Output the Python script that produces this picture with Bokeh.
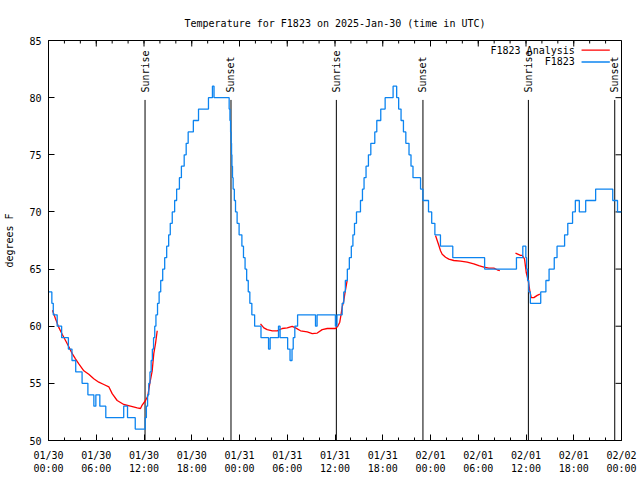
import math
import numpy as np
from bokeh.plotting import figure
from bokeh.models import Range1d, FixedTicker, Label
from bokeh.embed import file_html
from bokeh.resources import INLINE
from bokeh.core.properties import value

FONT = "DejaVu Sans Mono"

# ---------------- data ----------------
title_text = "Temperature for F1823 on 2025-Jan-30 (time in UTC)"
y_label_text = "degrees F"
series_names = ["F1823 Analysis", "F1823"]

x_tick_hours = [0, 6, 12, 18, 24, 30, 36, 42, 48, 54, 60, 66, 72]
x_tick_dates = ["01/30", "01/30", "01/30", "01/30", "01/31", "01/31", "01/31",
                "01/31", "02/01", "02/01", "02/01", "02/01", "02/02"]
x_tick_times = ["00:00", "06:00", "12:00", "18:00", "00:00", "06:00", "12:00",
                "18:00", "00:00", "06:00", "12:00", "18:00", "00:00"]
x_minor_hours = list(range(0, 73, 2))
y_ticks = [50, 55, 60, 65, 70, 75, 80, 85]

sunrise_hours = [12.13, 36.17, 60.3]
sunset_hours = [22.93, 47.05, 71.15]

# observed station temperature (hours since 01/30 00:00 UTC, value from that time on)
obs_t = [0.0, 0.42, 0.6, 1.09, 1.65, 2.5, 2.95, 3.42, 4.22, 4.95, 5.7, 5.95, 6.45,
         7.2, 9.45, 9.93, 10.9,
         12.15, 12.3, 12.45, 12.6, 12.75, 12.9, 13.05, 13.2, 13.35, 13.5, 13.7,
         13.9, 14.1, 14.35, 14.6, 14.85, 15.1, 15.3, 15.55, 15.85, 16.1, 16.45,
         16.7, 17.05, 17.3, 17.55, 18.2, 18.85, 20.1, 20.6, 20.8,
         22.7, 22.8, 22.88, 22.95, 23.0, 23.05, 23.12, 23.2, 23.35, 23.5, 23.7,
         23.95, 24.3, 24.5, 24.7, 24.9, 25.1, 25.3, 25.55, 25.9, 26.7, 27.65,
         27.85, 28.9, 29.1, 30.05, 30.35, 30.6, 30.75, 30.95, 31.3, 33.55, 33.75,
         36.05, 36.25, 36.9, 37.1, 37.3, 37.55, 37.8, 38.05, 38.25, 38.45, 38.7,
         39.2, 39.45, 39.65, 39.9, 40.2, 40.5, 41.0, 41.25, 41.75, 42.3, 43.3,
         43.75, 44.0, 44.3, 44.6, 44.9, 45.3, 45.55, 45.8, 46.75, 47.05, 47.75,
         48.15, 48.55, 49.25, 50.8, 54.8, 58.8, 59.6, 59.98, 60.08, 60.2, 60.35,
         60.55, 61.85, 62.5, 62.9, 63.55, 63.9, 64.85, 65.25, 65.85, 66.2, 66.7,
         67.5, 68.75, 70.9, 71.5, 72.0]
obs_v = [63, 62, 61, 60, 59, 58, 57, 56, 55, 54, 53, 54, 53,
         52, 53, 52, 51,
         52, 53, 54, 55, 56, 57, 58, 59, 60, 61, 62,
         63, 64, 65, 66, 67, 68, 69, 70, 71, 72, 73,
         74, 75, 76, 77, 78, 79, 80, 81, 80,
         79, 78, 77, 76, 75, 74, 73, 72, 71, 70, 69,
         68, 67, 66, 65, 64, 63, 62, 61, 60, 59, 58,
         59, 60, 59, 58, 57, 58, 59, 60, 61, 60, 61,
         60, 61, 62, 63, 64, 65, 66, 67, 68, 69, 70,
         71, 72, 73, 74, 75, 76, 77, 78, 79, 80, 81,
         80, 79, 78, 77, 76, 75, 74, 73, 72, 71, 70,
         69, 68, 67, 66, 65, 66, 67, 66, 65, 64, 63,
         62, 63, 64, 65, 66, 67, 68, 69, 70, 71, 70,
         71, 72, 71, 70, 70]

# analysis series, four separate pieces
ana1_t = [0.5, 0.88, 1.29, 1.72, 2.14, 2.55, 2.98, 3.39, 3.81, 4.44, 5.06, 5.69,
          6.32, 6.95, 7.58, 8.0, 8.63, 9.46, 10.3, 11.15, 11.56, 11.77, 12.19,
          12.48, 12.73, 13.03, 13.23, 13.45, 13.66]
ana1_v = [61.4, 60.65, 59.9, 59.3, 58.75, 58.2, 57.6, 57.15, 56.7, 56.1, 55.8, 55.4,
          55.1, 54.9, 54.7, 54.1, 53.5, 53.15, 53.0, 52.85, 52.8, 53.1, 53.5,
          53.9, 55.0, 56.1, 57.6, 58.5, 59.6]
ana2_t = [26.64, 27.06, 27.48, 28.11, 28.74, 29.37, 30.0, 30.62, 31.04, 31.67,
          32.51, 33.14, 33.77, 34.39, 35.02, 36.06, 36.35, 36.6, 36.78, 36.91,
          37.11, 37.23, 37.45, 37.53]
ana2_v = [60.2, 59.85, 59.7, 59.6, 59.6, 59.8, 59.85, 59.98, 59.85, 59.6,
          59.5, 59.35, 59.4, 59.7, 59.8, 59.8, 60.0, 60.35, 61.1, 61.7,
          62.25, 62.8, 63.7, 64.0]
ana3_t = [48.63, 48.84, 49.05, 49.26, 49.47, 49.89, 50.3, 50.93, 51.77, 52.61,
          53.44, 54.07, 54.7, 55.33, 55.96, 56.38, 56.71]
ana3_v = [67.94, 67.5, 67.06, 66.6, 66.3, 66.04, 65.87, 65.75, 65.7, 65.6,
          65.46, 65.3, 65.17, 65.08, 65.08, 64.94, 64.87]
ana4_t = [58.68, 59.31, 59.52, 59.81, 60.03, 60.28, 60.48, 60.66, 60.99, 61.41, 61.74]
ana4_v = [66.4, 66.2, 66.2, 65.9, 64.7, 64.0, 63.1, 62.5, 62.5, 62.7, 62.8]

RED = "#ff0000"
BLUE = "#0c84f0"

# ---------------- figure ----------------
FW, FH = 573, 400
X0, X1, Y0, Y1 = 0, 72, 50, 85
p = figure(frame_width=FW, frame_height=FH,
           min_border_left=48, min_border_right=19,
           min_border_top=40, min_border_bottom=40,
           x_range=Range1d(X0, X1), y_range=Range1d(Y0, Y1),
           output_backend="svg", toolbar_location=None,
           background_fill_color="white", border_fill_color="white")
p.xgrid.visible = False
p.ygrid.visible = False
p.outline_line_color = "black"
p.outline_line_width = 1

p.title.text = title_text
p.title.align = "center"
p.title.text_font = FONT
p.title.text_font_size = "10px"
p.title.text_font_style = "normal"
p.title.text_color = "black"
p.title.standoff = 23

xt = FixedTicker(ticks=x_tick_hours, minor_ticks=x_minor_hours)
yt = FixedTicker(ticks=y_ticks, minor_ticks=[])

for ax in (p.xaxis[0], p.yaxis[0]):
    ax.major_tick_in = 6
    ax.major_tick_out = 0
    ax.minor_tick_in = 3
    ax.minor_tick_out = 0
    ax.axis_line_color = "black"
    ax.major_tick_line_color = "black"
    ax.minor_tick_line_color = "black"
    ax.major_label_text_font = FONT
    ax.major_label_text_font_size = "10px"
    ax.major_label_text_color = "black"
    ax.major_label_standoff = 7

xa = p.xaxis[0]
xa.ticker = xt
xa.major_label_standoff = 9
xa.major_label_overrides = {h: d + "\n" + t for h, d, t in zip(x_tick_hours, x_tick_dates, x_tick_times)}

ya = p.yaxis[0]
ya.ticker = yt
ya.axis_label = y_label_text
ya.axis_label_text_font = FONT
ya.axis_label_text_font_size = "10px"
ya.axis_label_text_font_style = "normal"
ya.axis_label_text_color = "black"
ya.axis_label_standoff = 11

# mirrored inward ticks on top and right edges
dy_major = 6 * (Y1 - Y0) / FH
dy_minor = 3 * (Y1 - Y0) / FH
dx_major = 6 * (X1 - X0) / FW
p.segment(x0=x_minor_hours, y0=[Y1] * len(x_minor_hours), x1=x_minor_hours,
          y1=[Y1 - dy_minor] * len(x_minor_hours), line_color="black", line_width=1)
p.segment(x0=x_tick_hours, y0=[Y1] * len(x_tick_hours), x1=x_tick_hours,
          y1=[Y1 - dy_major] * len(x_tick_hours), line_color="black", line_width=1)
p.segment(x0=[X1] * len(y_ticks), y0=y_ticks, x1=[X1 - dx_major] * len(y_ticks),
          y1=y_ticks, line_color="black", line_width=1)

# sunrise / sunset markers
mark_top = 79.8
label_y = 80.45
for hours, name in ((sunrise_hours, "Sunrise"), (sunset_hours, "Sunset")):
    p.segment(x0=hours, y0=[Y0] * len(hours), x1=hours, y1=[mark_top] * len(hours),
              line_color="black", line_width=1)
    p.text(x=hours, y=[label_y] * len(hours), text=[name] * len(hours),
           angle=math.pi / 2, text_align="left", text_baseline="middle",
           text_font=value(FONT), text_font_size="10px", text_color="black")

# analysis series (red)
for t, v in ((ana1_t, ana1_v), (ana2_t, ana2_v), (ana3_t, ana3_v), (ana4_t, ana4_v)):
    p.line(t, v, line_color=RED, line_width=1.3)

# observations (blue, stepped)
p.step(obs_t, obs_v, mode="after", line_color=BLUE, line_width=1.3)

# gnuplot-style key (text right-aligned, sample on the right)
key_text_x = 66.13
key_line_x0, key_line_x1 = 66.98, 70.53
key_rows_y = [84.15, 83.12]
for name, color, ky in zip(series_names, [RED, BLUE], key_rows_y):
    p.add_layout(Label(x=key_text_x, y=ky, text=name, text_align="right",
                       text_baseline="middle", text_font=FONT,
                       text_font_size="10px", text_color="black"))
    p.segment(x0=[key_line_x0], y0=[ky], x1=[key_line_x1], y1=[ky],
              line_color=color, line_width=1.3)

open("out.html", "w").write(file_html(p, INLINE))
